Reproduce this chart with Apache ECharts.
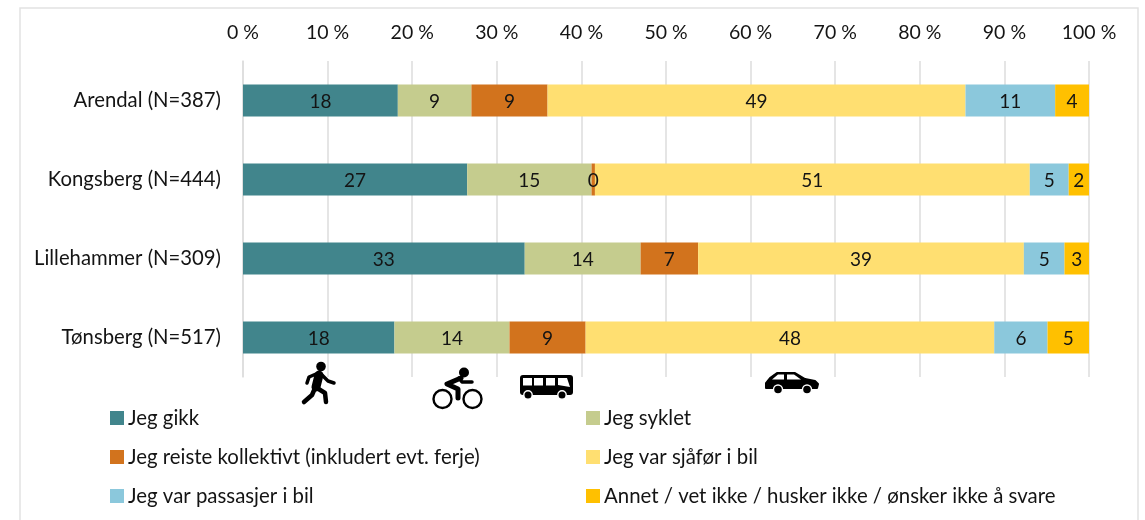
<!DOCTYPE html>
<html>
<head>
<meta charset="utf-8">
<style>
    html, body { margin: 0; padding: 0; background: #fff; }
    #chart { width: 1145px; height: 520px; }
</style>
<script src="https://cdn.jsdelivr.net/npm/echarts@6/dist/echarts.min.js"></script>
</head>
<body>
<div id="chart"></div>
<script>
var categories = ['Arendal (N=387)', 'Kongsberg (N=444)', 'Lillehammer (N=309)', 'Tønsberg (N=517)'];
var seriesNames = [
    'Jeg gikk',
    'Jeg syklet',
    'Jeg reiste kollektivt (inkludert evt. ferje)',
    'Jeg var sjåfør i bil',
    'Jeg var passasjer i bil',
    'Annet / vet ikke / husker ikke / ønsker ikke å svare'
];
// labels show them rounded
var walked = [18.3, 26.5, 33.3, 17.9];
var cycled = [8.7, 14.7, 13.7, 13.6];
var transit = [9.0, 0.4, 6.8, 9.0];
var driver = [49.4, 51.4, 38.5, 48.3];
var passenger = [10.6, 4.6, 4.8, 6.3];
var other = [4.0, 2.4, 2.9, 4.9];
var colors = ['#41858C', '#C5CC8E', '#D2731D', '#FFDF71', '#8BC8DC', '#FFC000'];

var font = 'Lato';
var textColor = '#141414';

var values = [walked, cycled, transit, driver, passenger, other];

function stroke(points, width) {
    return {
        type: 'polyline',
        shape: { points: points },
        style: { fill: 'none', stroke: '#000', lineWidth: width, lineCap: 'round', lineJoin: 'round' }
    };
}

function legendColumn(left, names) {
    return {
        left: left, top: 403, orient: 'vertical', itemWidth: 14, itemHeight: 14, itemGap: 19,
        data: names,
        icon: 'rect',
        textStyle: { fontSize: 20.4, lineHeight: 20, color: textColor, fontFamily: font, padding: [0, 0, 0, -1] }
    };
}

var chart = echarts.init(document.getElementById('chart'));
chart.setOption({
    animation: false,
    backgroundColor: '#fff',
    textStyle: { fontFamily: font },
    grid: { left: 243, top: 61, width: 846, height: 316 },
    xAxis: {
        type: 'value',
        position: 'top',
        min: 0,
        max: 100,
        interval: 10,
        axisLine: { show: false },
        axisTick: { show: false },
        axisLabel: { formatter: '{value} %', fontSize: 19.5, color: textColor, margin: 18, fontFamily: font },
        splitLine: { show: true, lineStyle: { color: '#DCDCDC', width: 1.5 } }
    },
    yAxis: {
        type: 'category',
        inverse: true,
        data: categories,
        axisLine: { show: true, lineStyle: { color: '#DCDCDC', width: 1.5 } },
        axisTick: { show: false },
        axisLabel: { fontSize: 20.3, color: textColor, margin: 22, fontFamily: font }
    },
    legend: [
        legendColumn(105, [seriesNames[0], seriesNames[2], seriesNames[4]]),
        legendColumn(581, [seriesNames[1], seriesNames[3], seriesNames[5]])
    ],
    graphic: [
        // frame round the figure, runs off the bottom
        { type: 'rect', silent: true, shape: { x: 20, y: 8, width: 1118, height: 540 },
          style: { fill: 'none', stroke: '#E2E2E2', lineWidth: 1.5 } },
        // gikk
        { type: 'group', x: 302, y: 362, children: [
            { type: 'circle', shape: { cx: 19, cy: 4.5, r: 4.8 }, style: { fill: '#000' } },
            stroke([[17, 13], [14, 25]], 9),
            stroke([[14, 12], [7, 15], [5, 21]], 3.5),
            stroke([[20, 13], [26, 19], [32, 21]], 3.5),
            stroke([[13, 26], [10, 33], [2, 40]], 4.5),
            stroke([[15, 26], [23, 31], [24, 40]], 4.5)
        ] },
        // syklet
        { type: 'group', x: 432, y: 368, children: [
            { type: 'circle', shape: { cx: 10.5, cy: 31, r: 9 }, style: { fill: 'none', stroke: '#000', lineWidth: 2.4 } },
            { type: 'circle', shape: { cx: 40.5, cy: 31, r: 9 }, style: { fill: 'none', stroke: '#000', lineWidth: 2.4 } },
            { type: 'circle', shape: { cx: 32, cy: 4.5, r: 5 }, style: { fill: '#000' } },
            stroke([[29, 10], [15, 16], [26, 21], [26, 30]], 5),
            stroke([[27, 10], [30, 14], [40, 14]], 3.5)
        ] },
        // kollektivt
        { type: 'group', x: 520, y: 375, children: [
            { type: 'rect', shape: { x: 0, y: 0, width: 53, height: 20, r: 3 }, style: { fill: '#000' } },
            { type: 'rect', shape: { x: 3, y: 3, width: 9, height: 7.5 }, style: { fill: '#fff' } },
            { type: 'rect', shape: { x: 14, y: 3, width: 9, height: 7.5 }, style: { fill: '#fff' } },
            { type: 'rect', shape: { x: 26, y: 3, width: 9, height: 7.5 }, style: { fill: '#fff' } },
            { type: 'polygon', shape: { points: [[38, 3], [47, 3], [50, 12], [38, 10]] }, style: { fill: '#fff' } },
            { type: 'circle', shape: { cx: 8, cy: 20, r: 4.2 }, style: { fill: '#000', stroke: '#fff', lineWidth: 1.4 } },
            { type: 'circle', shape: { cx: 42, cy: 20, r: 4.2 }, style: { fill: '#000', stroke: '#fff', lineWidth: 1.4 } }
        ] },
        // bil
        { type: 'group', x: 765, y: 372, children: [
            { type: 'polygon', shape: { points: [[5, 6], [12, 1], [30, 1], [40, 7], [50, 9], [53, 12], [52, 16], [1, 16], [1, 11]] },
              style: { fill: '#000', stroke: '#000', lineWidth: 2, lineJoin: 'round' } },
            { type: 'polygon', shape: { points: [[7, 7.5], [13, 2.5], [19, 2.5], [19, 7.5]] }, style: { fill: '#fff' } },
            { type: 'polygon', shape: { points: [[22, 2.5], [29, 2.5], [36, 7.5], [22, 7.5]] }, style: { fill: '#fff' } },
            { type: 'circle', shape: { cx: 13, cy: 17.5, r: 4.5 }, style: { fill: '#000', stroke: '#fff', lineWidth: 1.4 } },
            { type: 'circle', shape: { cx: 42, cy: 17.5, r: 4.5 }, style: { fill: '#000', stroke: '#fff', lineWidth: 1.4 } }
        ] }
    ],
    series: seriesNames.map(function (name, i) {
        return {
            name: name,
            type: 'bar',
            stack: 'total',
            barWidth: 32,
            data: values[i],
            itemStyle: { color: colors[i] },
            label: {
                show: true,
                position: 'inside',
                offset: [0, 1.5],
                fontSize: 19,
                fontFamily: font,
                color: textColor,
                formatter: function (p) { return Math.round(p.value); }
            }
        };
    })
});
</script>
</body>
</html>
